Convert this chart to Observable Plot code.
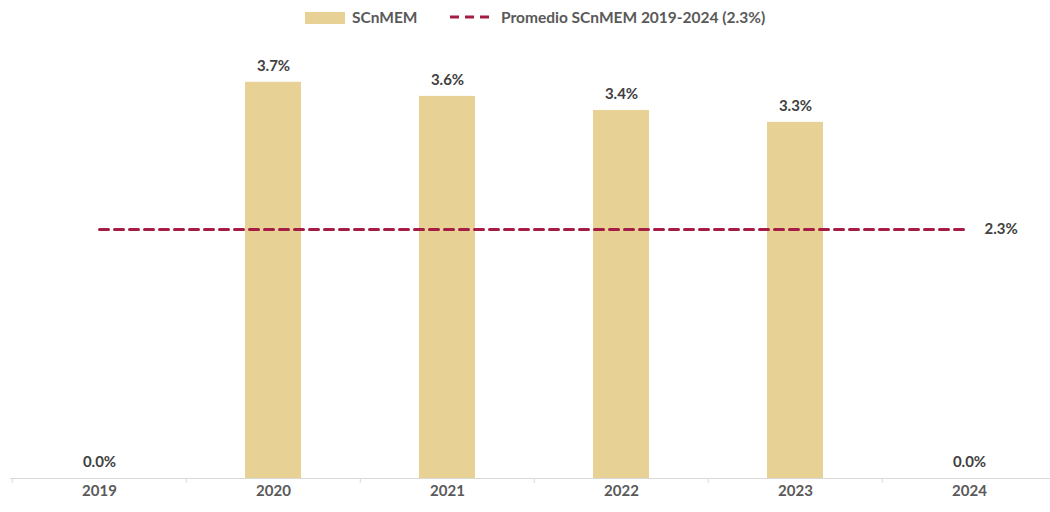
<!DOCTYPE html>
<html>
<head>
<meta charset="utf-8">
<script src="https://cdn.jsdelivr.net/npm/d3@7"></script>
<script src="https://cdn.jsdelivr.net/npm/@observablehq/plot@0.6"></script>
<style>
  html, body { margin: 0; padding: 0; background: #fff; }
  body { width: 1050px; height: 512px; overflow: hidden; font-family: Lato, "Open Sans", sans-serif; }
  #legend { position: relative; height: 36px; }
  .sw { position: absolute; }
  .lt { position: absolute; top: 8px; font-size: 15.5px; font-weight: bold; color: #595959; line-height: 18px; white-space: nowrap; }
  svg { display: block; }
</style>
</head>
<body>
<div id="legend">
  <div class="sw" style="left:305px; top:12px; width:40px; height:12px; background:#E7D194;"></div>
  <div class="lt" id="l1" style="left:352px;"></div>
  <svg class="sw" style="left:450px; top:11px;" width="44" height="12"><line x1="0" y1="6" x2="44" y2="6" stroke="#A51C45" stroke-width="3" stroke-dasharray="9,6"/></svg>
  <div class="lt" id="l2" style="left:501px;"></div>
</div>
<div id="chart"></div>
<script>
const years = ["2019", "2020", "2021", "2022", "2023", "2024"];
const values = [0, 3.66, 3.53, 3.40, 3.29, 0];
const valueLabels = ["0.0%", "3.7%", "3.6%", "3.4%", "3.3%", "0.0%"];
const average = 2.3;
const averageLabel = "2.3%";
const seriesName = "SCnMEM";
const averageName = "Promedio SCnMEM 2019-2024 (2.3%)";

document.getElementById("l1").textContent = seriesName;
document.getElementById("l2").textContent = averageName;

const data = years.map((y, i) => ({year: y, value: values[i], label: valueLabels[i]}));
const barColor = "#E7D194";
const lineColor = "#A51C45";

const chart = Plot.plot({
  width: 1050,
  height: 476,
  marginLeft: 10,
  marginRight: -7,
  marginTop: 9,
  marginBottom: 34,
  style: {fontFamily: "Lato, 'Open Sans', sans-serif", fontSize: "15px", background: "#fff"},
  x: {domain: years, paddingInner: 0.68, paddingOuter: 0.34, label: null},
  y: {domain: [0, 4], axis: null},
  marks: [
    Plot.barY(data, {x: "year", y: "value", fill: barColor}),
    Plot.ruleY([0], {stroke: "#D9D9D9", strokeWidth: 1}),
    Plot.ruleX(data, {x: "year", y1: 0, y2: -0.046, stroke: "#D9D9D9", dx: -87.25}),
    Plot.lineY(data, {x: "year", y: () => average, stroke: lineColor, strokeWidth: 3, strokeDasharray: "9,6"}),
    Plot.text(data, {x: "year", y: "value", text: "label", dy: -16, fill: "#404040", fontWeight: "bold", fontSize: 15}),
    Plot.text([data[data.length - 1]], {x: "year", y: () => average, text: () => averageLabel, dx: 15, textAnchor: "start", fill: "#404040", fontWeight: "bold", fontSize: 15}),
    Plot.axisX({tickSize: 0, tickPadding: 7, fontWeight: "bold", fill: "#595959", fontSize: 15})
  ]
});
document.getElementById("chart").appendChild(chart);
</script>
</body>
</html>
